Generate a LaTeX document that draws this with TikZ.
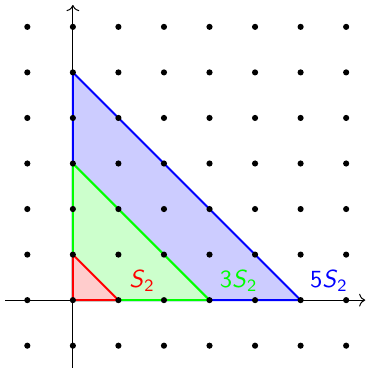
\documentclass[tikz,border=0pt]{standalone}
\usetikzlibrary{arrows.meta}
\newcommand{\simplexlabel}[1]{\textsf{#1\textit{S}\textsubscript{2}}}

\begin{document}
\begin{tikzpicture}[x=0.65cm, y=0.65cm, line width=0.8pt,
    axis/.style={->, line width=0.4pt},
    simplex/.style={draw=#1, fill=#1!20},
    lbl/.style={text=#1}]
				\useasboundingbox (-1.6,-1.49) rectangle (6.44,6.59);
				\coordinate (O)   at (0,0);
				\coordinate (Xl)  at (-1.49,0);
				\coordinate (Xr)  at (6.42,0);
				\coordinate (Yb)  at (0,-1.49);
				\coordinate (Yt)  at (0,6.48);
				\coordinate (A1)  at (1,0);
				\coordinate (B1)  at (0,1);
				\coordinate (A3)  at (3,0);
				\coordinate (B3)  at (0,3);
				\coordinate (A5)  at (5,0);
				\coordinate (B5)  at (0,5);
				\draw[axis] (Xl) -- (Xr);
				\draw[axis] (Yb) -- (Yt);
				\filldraw[simplex=blue]  (O) -- (A5) -- (B5) -- cycle;
				\filldraw[simplex=green] (O) -- (A3) -- (B3) -- cycle;
				\filldraw[simplex=red]   (O) -- (A1) -- (B1) -- cycle;
				\foreach \x in {-1,...,6}
					\foreach \y in {-1,...,6}
						\fill (\x,\y) circle (1.25pt);
				\node[lbl=red]   (S1) at (1.52,0.42) {\simplexlabel{}};
				\node[lbl=green] (S3) at (3.64,0.42) {\simplexlabel{3}};
				\node[lbl=blue]  (S5) at (5.62,0.42) {\simplexlabel{5}};
		\end{tikzpicture}
\end{document}
